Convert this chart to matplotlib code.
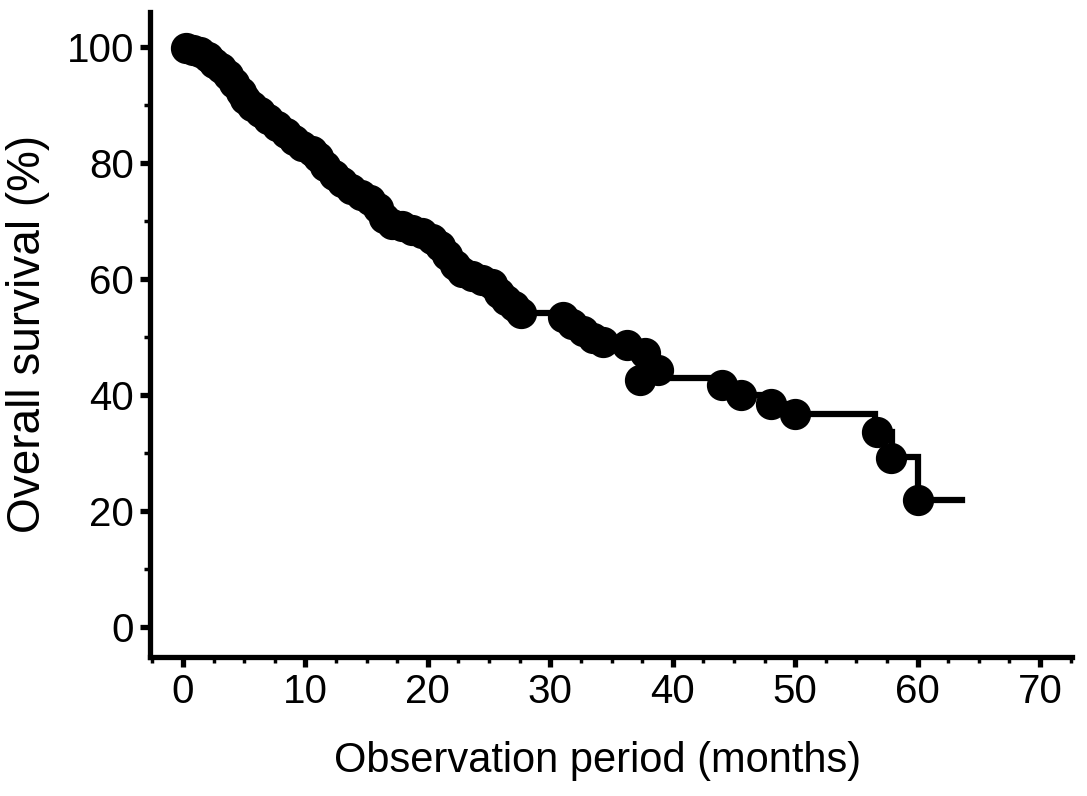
import numpy as np
import matplotlib
matplotlib.use('Agg')
import matplotlib.pyplot as plt
from matplotlib.ticker import MultipleLocator

plt.rcParams['font.family'] = ['Liberation Sans', 'DejaVu Sans']

# censored observations (months, % surviving)
censor_t = [0.2, 0.8, 1.4, 2.0, 2.5, 3.1, 3.7, 4.2, 4.7, 5.1, 5.6, 6.3, 6.9, 7.7, 8.4,
            9.1, 9.7, 10.5, 11.0, 11.6, 12.3, 13.0, 13.7, 14.5, 15.3, 15.9, 16.4, 17.1,
            17.9, 18.7, 19.5, 20.3, 21.0, 21.6, 22.2, 22.8, 23.6, 24.4, 25.2, 25.8, 26.4,
            27.0, 27.6, 31.0, 31.8, 32.7, 33.5, 34.3, 36.3, 37.7, 38.8, 37.3, 44.0, 45.6,
            48.0, 50.0, 56.7, 57.8, 60.0]
censor_s = [99.8, 99.5, 99.1, 98.3, 97.2, 96.4, 95.2, 93.8, 92.2, 90.9, 89.8, 88.8, 87.6,
            86.4, 85.2, 84.0, 82.9, 82.1, 81.0, 79.5, 77.9, 76.7, 75.5, 74.5, 73.6, 72.2,
            70.5, 69.5, 69.0, 68.4, 67.8, 66.9, 65.7, 64.1, 62.4, 61.2, 60.5, 59.8, 59.0,
            57.6, 56.4, 55.3, 54.1, 53.4, 52.1, 51.0, 49.8, 49.1, 48.6, 47.2, 44.3, 42.6,
            41.7, 40.0, 38.3, 36.6, 33.6, 29.0, 21.9]

# Kaplan-Meier step curve
step_t = [0, 0.5, 1.1, 1.7, 2.2, 2.8, 3.4, 3.9, 4.4, 4.9, 5.3, 5.9, 6.6, 7.3, 8.0, 8.7,
          9.4, 10.1, 10.7, 11.3, 11.9, 12.6, 13.3, 14.1, 14.9, 15.6, 16.1, 16.7, 17.5,
          18.3, 19.1, 19.9, 20.6, 21.3, 21.9, 22.5, 23.2, 24.0, 24.8, 25.5, 26.1, 26.7,
          27.3, 30.3, 31.4, 32.2, 33.1, 33.9, 35.3, 37.0, 38.2, 38.9, 44.0, 45.4, 47.5,
          49.5, 56.5, 57.9, 60.0, 63.6]
step_s = [100, 99.5, 99.1, 98.3, 97.2, 96.4, 95.2, 93.8, 92.2, 90.9, 89.8, 88.8, 87.6,
          86.4, 85.2, 84.0, 82.9, 82.1, 81.0, 79.5, 77.9, 76.7, 75.5, 74.5, 73.6, 72.2,
          70.5, 69.5, 69.0, 68.4, 67.8, 66.9, 65.7, 64.1, 62.4, 61.2, 60.5, 59.8, 59.0,
          57.6, 56.4, 55.3, 54.1, 53.4, 52.1, 51.0, 49.8, 49.1, 48.6, 47.2, 44.3, 42.9,
          41.7, 40.0, 38.3, 36.6, 33.6, 29.2, 21.9, 21.9]

fig = plt.figure(figsize=(10.87, 7.96), dpi=100)
ax = fig.add_axes([0.138, 0.175, 0.848, 0.81])

ax.plot(step_t, step_s, drawstyle='steps-post', color='black', lw=4.5, solid_joinstyle='miter')
ax.plot(censor_t, censor_s, 'o', color='black', markersize=21.5, zorder=3)

ax.set_xlim(-2.7, 72.6)
ax.set_ylim(-5.2, 106)
ax.xaxis.set_major_locator(MultipleLocator(10))
ax.xaxis.set_minor_locator(MultipleLocator(2.5))
ax.yaxis.set_major_locator(MultipleLocator(20))
ax.yaxis.set_minor_locator(MultipleLocator(10))
ax.set_yticks(np.arange(0, 101, 20))

for side in ['top', 'right']:
    ax.spines[side].set_visible(False)
for side in ['left', 'bottom']:
    ax.spines[side].set_linewidth(3.8)

ax.tick_params(which='major', length=7.5, width=3.8, labelsize=29, pad=4)
ax.tick_params(which='minor', length=4, width=2.5)

ax.set_xlabel('Observation period (months)', fontsize=30, labelpad=24)
ax.xaxis.set_label_coords(0.486, -0.13)
ax.set_ylabel('Overall survival (%)', fontsize=33, labelpad=12)

plt.savefig('out.png', dpi=100)
